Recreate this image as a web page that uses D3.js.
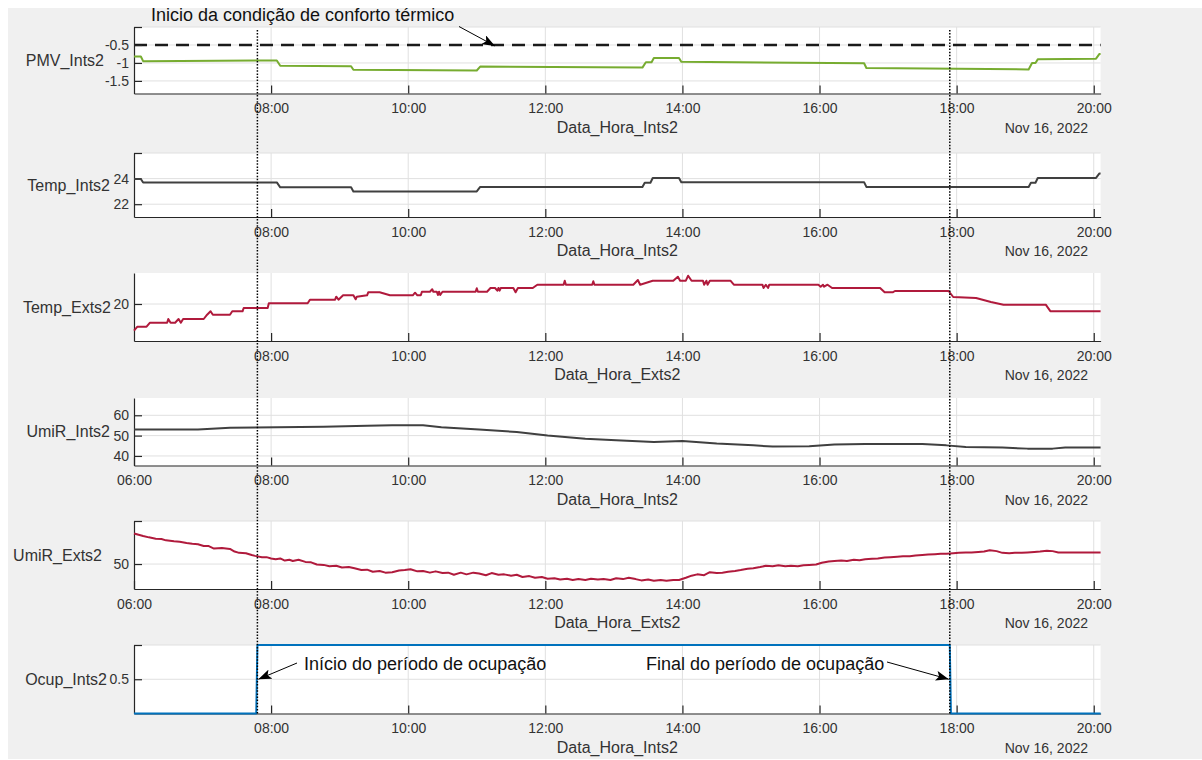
<!DOCTYPE html>
<html>
<head>
    <meta charset="utf-8" />
    <title>Ints2 / Exts2</title>
    <script src="https://d3js.org/d3.v7.min.js"></script>
    <style>
        body { margin: 0; background: #fff; }
        svg { display: block; font-family: "Liberation Sans", Arial, Helvetica, sans-serif; }
        .grid line { stroke: #e0e0e0; stroke-width: 1; }
        .axis path, .axis line { stroke: #262626; stroke-width: 1.2; }
        .axis text { fill: #333; font-size: 14px; }
        .series { fill: none; stroke-width: 2; stroke-linejoin: round; }
        .ylab { fill: #333; font-size: 16px; }
        .xlab { fill: #333; font-size: 16px; }
        .note { fill: #111; font-size: 18px; }
    </style>
</head>
<body>
<svg width="1202" height="760"></svg>
<script>

    var day = "2022-11-16";
    var dayLabel = "Nov 16, 2022";
    var xStart = "06:00", xEnd = "20:06";
    var xTicks = ["06:00", "08:00", "10:00", "12:00", "14:00", "16:00", "18:00", "20:00"];

    var comfortLimit = -0.5;
    var occupStart = "07:48", occupEnd = "17:54";

    var pmvInts2 = [
        ["06:00", -0.82], ["06:06", -0.82], ["06:08", -0.95], ["08:05", -0.93], ["08:08", -1.08],
        ["09:10", -1.09], ["09:12", -1.19], ["11:00", -1.21], ["11:03", -1.10], ["13:25", -1.13],
        ["13:28", -0.98], ["13:33", -0.98], ["13:35", -0.86], ["13:57", -0.86], ["13:59", -0.97],
        ["16:39", -1.01], ["16:41", -1.14], ["19:03", -1.18], ["19:06", -1.00], ["19:09", -1.00],
        ["19:11", -0.90], ["20:02", -0.88], ["20:05", -0.75], ["20:06", -0.75]
    ];

    var tempInts2 = [
        ["06:00", 23.97], ["06:06", 23.97], ["06:08", 23.70], ["08:05", 23.70], ["08:08", 23.32],
        ["09:10", 23.32], ["09:12", 23.00], ["11:00", 23.00], ["11:03", 23.35], ["13:25", 23.35],
        ["13:27", 23.68], ["13:32", 23.68], ["13:34", 24.05], ["13:57", 24.05], ["13:59", 23.72],
        ["16:39", 23.72], ["16:41", 23.35], ["19:03", 23.35], ["19:05", 23.68], ["19:09", 23.68],
        ["19:11", 24.05], ["20:02", 24.05], ["20:05", 24.40], ["20:06", 24.40]
    ];

    var tempExts2 = [
        ["06:00", 17.33], ["06:03", 17.73], ["06:11", 17.73], ["06:14", 18.13], ["06:29", 18.13],
        ["06:30", 18.50], ["06:32", 18.13], ["06:36", 18.13], ["06:39", 18.50], ["06:41", 18.13],
        ["06:43", 18.50], ["07:01", 18.50], ["07:04", 18.93], ["07:07", 19.27], ["07:09", 18.93],
        ["07:24", 18.93], ["07:26", 19.27], ["07:35", 19.27], ["07:36", 19.60], ["07:57", 19.60],
        ["07:58", 20.07], ["08:32", 20.07], ["08:34", 20.43], ["08:56", 20.43], ["08:57", 20.73],
        ["08:59", 20.43], ["09:03", 20.87], ["09:12", 20.87], ["09:14", 20.47], ["09:15", 20.73],
        ["09:24", 20.87], ["09:25", 21.17], ["09:35", 21.17], ["09:44", 20.87], ["10:04", 20.87],
        ["10:06", 21.13], ["10:08", 20.87], ["10:11", 20.87], ["10:12", 21.23], ["10:19", 21.23],
        ["10:21", 21.47], ["10:22", 21.23], ["10:25", 21.23], ["10:26", 20.90], ["10:27", 21.23],
        ["10:28", 20.90], ["10:30", 21.23], ["10:59", 21.23], ["11:00", 21.57], ["11:01", 21.23],
        ["11:09", 21.23], ["11:12", 21.60], ["11:16", 21.60], ["11:18", 21.33], ["11:19", 21.60],
        ["11:20", 21.33], ["11:21", 21.60], ["11:32", 21.60], ["11:34", 21.17], ["11:36", 21.60],
        ["11:49", 21.60], ["11:53", 21.93], ["12:16", 21.93], ["12:17", 22.33], ["12:18", 21.93],
        ["12:41", 21.93], ["12:42", 22.27], ["12:43", 21.93], ["13:17", 21.93], ["13:21", 22.40],
        ["13:23", 21.93], ["13:34", 22.33], ["13:52", 22.33], ["13:56", 22.73], ["13:58", 22.33],
        ["14:03", 22.33], ["14:05", 22.83], ["14:08", 22.33], ["14:18", 22.33], ["14:19", 21.93],
        ["14:21", 22.33], ["14:22", 21.93], ["14:24", 22.33], ["14:42", 22.33], ["14:45", 21.93],
        ["15:10", 21.93], ["15:11", 21.60], ["15:13", 21.93], ["15:15", 21.60], ["15:16", 21.93],
        ["15:59", 21.93], ["16:01", 21.73], ["16:03", 21.93], ["16:04", 21.73], ["16:07", 21.93],
        ["16:11", 21.60], ["16:53", 21.60], ["16:57", 21.17], ["17:04", 21.17], ["17:06", 21.30],
        ["17:53", 21.30], ["17:57", 20.70], ["18:17", 20.60], ["18:30", 20.20], ["18:41", 19.93],
        ["19:18", 19.93], ["19:22", 19.28], ["20:06", 19.28]
    ];

    var umirInts2 = [
        ["06:00", 52.95], ["06:56", 52.95], ["07:24", 53.9], ["08:46", 54.3], ["09:24", 54.9],
        ["09:46", 55.1], ["10:13", 55.1], ["10:29", 54.1], ["11:02", 52.95], ["11:35", 51.8],
        ["12:02", 50.0], ["12:35", 48.5], ["13:02", 47.7], ["13:35", 46.9], ["14:00", 47.4],
        ["14:30", 46.1], ["15:02", 45.2], ["15:19", 44.6], ["15:51", 44.8], ["16:13", 45.6],
        ["16:40", 45.9], ["17:30", 45.9], ["17:51", 45.2], ["18:08", 44.4], ["18:40", 44.1],
        ["19:02", 43.6], ["19:24", 43.6], ["19:35", 44.1], ["20:06", 44.1]
    ];

    var umirExts2 = [
        ["06:00", 57.1], ["06:04", 56.8], ["06:08", 56.5], ["06:13", 56.2], ["06:19", 55.9],
        ["06:24", 55.8], ["06:28", 55.5], ["06:35", 55.3], ["06:40", 55.2], ["06:46", 54.9],
        ["06:51", 54.7], ["06:56", 54.6], ["07:01", 54.2], ["07:05", 54.2], ["07:10", 53.6],
        ["07:17", 53.7], ["07:24", 53.5], ["07:28", 52.9], ["07:32", 52.6], ["07:38", 52.5],
        ["07:43", 52.1], ["07:46", 51.9], ["07:52", 51.6], ["07:56", 51.6], ["08:00", 51.3],
        ["08:04", 51.1], ["08:08", 51.3], ["08:12", 50.8], ["08:16", 51.0], ["08:19", 50.7],
        ["08:24", 51.0], ["08:30", 50.5], ["08:35", 50.4], ["08:40", 49.9], ["08:46", 49.8],
        ["08:51", 49.5], ["08:57", 49.6], ["09:02", 49.2], ["09:08", 49.3], ["09:13", 49.0],
        ["09:19", 48.6], ["09:24", 48.7], ["09:29", 48.2], ["09:35", 48.4], ["09:40", 48.0],
        ["09:46", 48.1], ["09:52", 48.5], ["09:57", 48.6], ["10:02", 48.8], ["10:08", 48.3],
        ["10:13", 48.4], ["10:19", 48.0], ["10:24", 48.3], ["10:30", 47.9], ["10:35", 48.0],
        ["10:40", 47.5], ["10:46", 48.0], ["10:51", 47.6], ["10:57", 48.0], ["11:02", 47.8],
        ["11:08", 47.4], ["11:13", 47.9], ["11:19", 47.5], ["11:24", 47.6], ["11:30", 47.3],
        ["11:35", 47.5], ["11:40", 47.0], ["11:46", 47.2], ["11:51", 46.8], ["11:57", 47.0],
        ["12:02", 46.6], ["12:08", 46.7], ["12:13", 46.4], ["12:19", 46.6], ["12:24", 46.3],
        ["12:29", 46.5], ["12:35", 46.3], ["12:40", 46.6], ["12:46", 46.4], ["12:51", 46.5],
        ["12:57", 46.3], ["13:02", 46.7], ["13:08", 46.5], ["13:13", 46.8], ["13:19", 46.5],
        ["13:24", 46.2], ["13:30", 46.4], ["13:35", 46.1], ["13:41", 46.3], ["13:46", 46.1],
        ["13:52", 46.3], ["13:57", 46.3], ["14:03", 46.8], ["14:08", 47.3], ["14:13", 47.6],
        ["14:19", 47.4], ["14:24", 48.1], ["14:30", 47.9], ["14:35", 48.0], ["14:40", 48.2],
        ["14:46", 48.4], ["14:51", 48.6], ["14:57", 48.9], ["15:02", 49.0], ["15:08", 49.3],
        ["15:13", 49.6], ["15:19", 49.5], ["15:24", 49.7], ["15:30", 49.5], ["15:35", 49.6],
        ["15:41", 49.5], ["15:46", 49.7], ["15:51", 49.8], ["15:57", 49.9], ["16:02", 50.3],
        ["16:08", 50.6], ["16:13", 50.7], ["16:19", 50.8], ["16:24", 50.7], ["16:30", 51.0],
        ["16:35", 50.9], ["16:40", 51.1], ["16:46", 51.2], ["16:51", 51.3], ["16:57", 51.5],
        ["17:02", 51.6], ["17:08", 51.7], ["17:13", 51.8], ["17:19", 51.8], ["17:24", 52.0],
        ["17:30", 52.1], ["17:35", 52.2], ["17:41", 52.3], ["17:46", 52.4], ["17:51", 52.4],
        ["17:57", 52.5], ["18:02", 52.6], ["18:08", 52.7], ["18:13", 52.7], ["18:19", 52.8],
        ["18:24", 52.9], ["18:29", 53.2], ["18:35", 53.0], ["18:40", 52.6], ["18:46", 52.5],
        ["18:51", 52.6], ["18:57", 52.6], ["19:02", 52.7], ["19:08", 52.8], ["19:13", 52.9],
        ["19:19", 53.1], ["19:24", 53.0], ["19:29", 52.7], ["19:40", 52.7], ["20:06", 52.7]
    ];

    var ocupInts2 = [
        ["06:00", 0], ["07:47", 0], ["07:48", 1], ["17:54", 1], ["17:55", 0], ["20:06", 0]
    ];

    // one row per stacked axis
    var panels = [
        { name: "PMV_Ints2", data: pmvInts2, color: "#77AC30", xTitle: "Data_Hora_Ints2",
          top: 27, bottom: 93.5, domain: [-1.85, 0], ticks: [-1.5, -1, -0.5, 0], hide: [0], labelRight: 104, first: false },
        { name: "Temp_Ints2", data: tempInts2, color: "#404040", xTitle: "Data_Hora_Ints2",
          top: 153, bottom: 217, domain: [21, 26], ticks: [22, 24, 26], hide: [26], labelRight: 110, first: false },
        { name: "Temp_Exts2", data: tempExts2, color: "#B01A3C", xTitle: "Data_Hora_Exts2",
          top: 273, bottom: 341, domain: [16.3, 23.1], ticks: [20], hide: [], labelRight: 111, first: false },
        { name: "UmiR_Ints2", data: umirInts2, color: "#404040", xTitle: "Data_Hora_Ints2",
          top: 398, bottom: 465.5, domain: [35.3, 68.5], ticks: [40, 50, 60], hide: [], labelRight: 110, first: true },
        { name: "UmiR_Exts2", data: umirExts2, color: "#B01A3C", xTitle: "Data_Hora_Exts2",
          top: 521, bottom: 589, domain: [44.2, 60], ticks: [50, 60], hide: [60], labelRight: 102, first: true },
        { name: "Ocup_Ints2", data: ocupInts2, color: "#0072BD", xTitle: "Data_Hora_Ints2",
          top: 645, bottom: 713.5, domain: [0, 1], ticks: [0.5, 1], hide: [1], labelRight: 107, first: false }
    ];

    var parseTime = d3.timeParse("%Y-%m-%d %H:%M");
    function t(s) { return parseTime(day + " " + s); }

    var svg = d3.select("svg");
    var left = 134, right = 1100.6;

    svg.append("rect")
        .attr("x", 8).attr("y", 8)
        .attr("width", 1194).attr("height", 751)
        .attr("fill", "#f0f0f0");

    svg.append("defs").append("marker")
        .attr("id", "head")
        .attr("markerUnits", "userSpaceOnUse")
        .attr("markerWidth", 14).attr("markerHeight", 10)
        .attr("refX", 13).attr("refY", 5)
        .attr("orient", "auto")
        .append("path")
        .attr("d", "M0,0 L13,5 L0,10 L3,5 z")
        .attr("fill", "#000");

    var x = d3.scaleTime()
        .domain([t(xStart), t(xEnd)])
        .range([left, right]);

    var scales = [];

    panels.forEach(function (p) {
        var y = d3.scaleLinear().domain(p.domain).range([p.bottom, p.top]);
        scales.push(y);

        var g = svg.append("g");

        g.append("rect")
            .attr("x", left).attr("y", p.top)
            .attr("width", right - left).attr("height", p.bottom - p.top)
            .attr("fill", "#fff");

        // grid
        var grid = g.append("g").attr("class", "grid");
        grid.selectAll(".gx")
            .data(xTicks.slice(1))
            .enter().append("line")
            .attr("x1", function (d) { return x(t(d)); })
            .attr("x2", function (d) { return x(t(d)); })
            .attr("y1", p.top).attr("y2", p.bottom);
        grid.selectAll(".gy")
            .data(p.ticks)
            .enter().append("line")
            .attr("x1", left).attr("x2", right)
            .attr("y1", function (d) { return y(d); })
            .attr("y2", function (d) { return y(d); });

        if (p.name == "PMV_Ints2") {
            g.append("line")
                .attr("x1", left).attr("x2", right)
                .attr("y1", y(comfortLimit)).attr("y2", y(comfortLimit))
                .attr("stroke", "#1a1a1a")
                .attr("stroke-width", 2.5)
                .attr("stroke-dasharray", "13,8");
        }

        var xt = p.first ? xTicks : xTicks.slice(1);
        g.append("g")
            .attr("class", "axis axis--x")
            .attr("transform", "translate(0," + p.bottom + ")")
            .call(d3.axisBottom(x)
                .tickValues(xt.map(t))
                .tickSize(-8).tickSizeOuter(0).tickPadding(10)
                .tickFormat(d3.timeFormat("%H:%M")));

        g.append("g")
            .attr("class", "axis axis--y")
            .attr("transform", "translate(" + left + ",0)")
            .call(d3.axisLeft(y)
                .tickValues(p.ticks)
                .tickSize(-8).tickSizeOuter(0).tickPadding(5)
                .tickFormat(function (d) { return p.hide.indexOf(d) >= 0 ? "" : String(d); }));

        g.append("path")
            .datum(p.data)
            .attr("class", "series")
            .attr("stroke", p.color)
            .attr("d", d3.line()
                .x(function (d) { return x(t(d[0])); })
                .y(function (d) { return y(d[1]); }));

        g.append("text")
            .attr("class", "ylab")
            .attr("x", p.labelRight)
            .attr("y", (p.top + p.bottom) / 2)
            .attr("dy", "0.35em")
            .attr("text-anchor", "end")
            .text(p.name);

        g.append("text")
            .attr("class", "xlab")
            .attr("x", (left + right) / 2)
            .attr("y", p.bottom + 39)
            .attr("text-anchor", "middle")
            .text(p.xTitle);

        g.append("text")
            .attr("x", 1088)
            .attr("y", p.bottom + 39)
            .attr("text-anchor", "end")
            .attr("fill", "#333")
            .style("font-size", "14px")
            .text(dayLabel);
    });

    // occupation period markers
    svg.selectAll(".mark")
        .data([occupStart, occupEnd])
        .enter().append("line")
        .attr("x1", function (d) { return x(t(d)); })
        .attr("x2", function (d) { return x(t(d)); })
        .attr("y1", 30).attr("y2", 713.5)
        .attr("stroke", "#000")
        .attr("stroke-width", 1.5)
        .attr("stroke-dasharray", "1.5,1.6");

    var yPmv = scales[0], yOcup = scales[5];

    var notes = [
        { text: "Inicio da condição de conforto térmico", tx: 151, ty: 21,
          x1: 459, y1: 26.5, x2: 495, y2: yPmv(comfortLimit) + 1 },
        { text: "Início do período de ocupação", tx: 304, ty: 670,
          x1: 297, y1: 663, x2: x(t(occupStart)) + 1, y2: yOcup(0.5) },
        { text: "Final do período de ocupação", tx: 646, ty: 670,
          x1: 887, y1: 662, x2: x(t(occupEnd)) - 1, y2: yOcup(0.5) }
    ];

    notes.forEach(function (n) {
        svg.append("line")
            .attr("x1", n.x1).attr("y1", n.y1)
            .attr("x2", n.x2).attr("y2", n.y2)
            .attr("stroke", "#000").attr("stroke-width", 1)
            .attr("marker-end", "url(#head)");
        svg.append("text")
            .attr("class", "note")
            .attr("x", n.tx).attr("y", n.ty)
            .text(n.text);
    });

</script>
</body>
</html>
